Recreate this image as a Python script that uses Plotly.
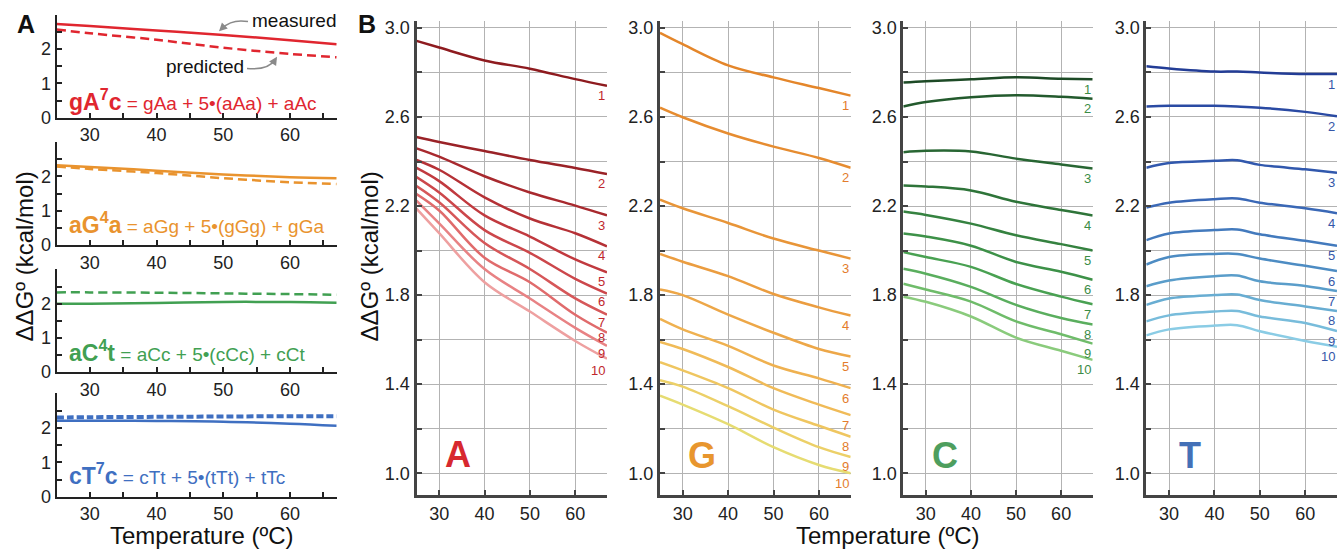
import plotly.graph_objects as go

FONT = "Arial, 'Liberation Sans', Helvetica, sans-serif"

# ---------------- data: panel A ----------------
temp_A = [25, 30, 40, 50, 60, 67]
gA7c_measured = [2.73, 2.67, 2.54, 2.41, 2.26, 2.14]
gA7c_predicted = [2.57, 2.46, 2.27, 2.04, 1.86, 1.76]
aG4a_measured = [2.33, 2.28, 2.17, 2.06, 1.98, 1.95]
aG4a_predicted = [2.29, 2.22, 2.10, 1.95, 1.83, 1.78]
aC4t_measured = [2.00, 2.00, 2.02, 2.05, 2.05, 2.03]
aC4t_predicted = [2.33, 2.33, 2.32, 2.30, 2.28, 2.26]
cT7c_measured = [2.21, 2.21, 2.20, 2.18, 2.12, 2.06]
cT7c_predicted = [2.30, 2.31, 2.32, 2.33, 2.34, 2.34]

A_names = ["gA<sup>7</sup>c", "aG<sup>4</sup>a", "aC<sup>4</sup>t", "cT<sup>7</sup>c"]
A_formulas = ["= gAa + 5•(aAa) + aAc", "= aGg + 5•(gGg) + gGa",
              "= aCc + 5•(cCc) + cCt", "= cTt + 5•(tTt) + tTc"]
A_xticks = [30, 35, 40, 45, 50, 55, 60, 65]
A_xticktext = ["30", "", "40", "", "50", "", "60", ""]
A_yticks = [0, 0.5, 1, 1.5, 2, 2.5]
A_yticktext = ["0", "", "1", "", "2", ""]

# ---------------- data: panel B ----------------
temp_B = [25, 30, 40, 50, 60, 67]
temp_T = [25, 30, 40, 45, 50, 60, 67]
A_curves = [
    [2.942, 2.912, 2.854, 2.817, 2.770, 2.740],
    [2.510, 2.488, 2.447, 2.407, 2.371, 2.344],
    [2.459, 2.422, 2.334, 2.261, 2.202, 2.158],
    [2.407, 2.363, 2.239, 2.144, 2.078, 2.019],
    [2.371, 2.312, 2.158, 2.063, 1.960, 1.902],
    [2.330, 2.261, 2.092, 1.990, 1.873, 1.807],
    [2.290, 2.217, 2.034, 1.917, 1.785, 1.712],
    [2.254, 2.180, 1.968, 1.858, 1.712, 1.631],
    [2.224, 2.122, 1.917, 1.785, 1.653, 1.572],
    [2.188, 2.078, 1.858, 1.726, 1.594, 1.514],
]
G_curves = [
    [2.978, 2.927, 2.832, 2.778, 2.730, 2.696],
    [2.642, 2.599, 2.526, 2.467, 2.416, 2.372],
    [2.229, 2.190, 2.124, 2.054, 2.000, 1.964],
    [1.985, 1.950, 1.885, 1.805, 1.745, 1.708],
    [1.825, 1.800, 1.712, 1.631, 1.558, 1.524],
    [1.693, 1.646, 1.572, 1.484, 1.426, 1.382],
    [1.590, 1.558, 1.477, 1.382, 1.308, 1.261],
    [1.499, 1.462, 1.382, 1.286, 1.213, 1.164],
    [1.418, 1.389, 1.301, 1.205, 1.117, 1.073],
    [1.348, 1.308, 1.220, 1.117, 1.037, 1.000],
]
C_curves = [
    [2.755, 2.761, 2.769, 2.778, 2.772, 2.769],
    [2.647, 2.667, 2.689, 2.698, 2.691, 2.682],
    [2.442, 2.448, 2.445, 2.413, 2.387, 2.369],
    [2.292, 2.288, 2.270, 2.219, 2.182, 2.158],
    [2.175, 2.160, 2.121, 2.069, 2.029, 2.000],
    [2.077, 2.063, 2.022, 1.949, 1.905, 1.869],
    [1.993, 1.971, 1.927, 1.850, 1.793, 1.759],
    [1.918, 1.896, 1.837, 1.756, 1.697, 1.668],
    [1.851, 1.825, 1.771, 1.682, 1.624, 1.582],
    [1.793, 1.770, 1.704, 1.609, 1.550, 1.509],
]
T_curves = [
    [2.828, 2.818, 2.804, 2.804, 2.800, 2.793, 2.793],
    [2.647, 2.650, 2.650, 2.647, 2.642, 2.623, 2.603],
    [2.372, 2.393, 2.403, 2.406, 2.385, 2.365, 2.350],
    [2.193, 2.215, 2.231, 2.234, 2.215, 2.190, 2.168],
    [2.047, 2.077, 2.092, 2.095, 2.073, 2.044, 2.022],
    [1.937, 1.971, 1.985, 1.985, 1.964, 1.932, 1.908],
    [1.840, 1.866, 1.885, 1.888, 1.862, 1.841, 1.818],
    [1.756, 1.785, 1.800, 1.803, 1.778, 1.749, 1.729],
    [1.682, 1.709, 1.726, 1.729, 1.704, 1.675, 1.638],
    [1.619, 1.646, 1.663, 1.665, 1.638, 1.594, 1.568],
]
curve_labels = ["1", "2", "3", "4", "5", "6", "7", "8", "9", "10"]
B_letters = ["A", "G", "C", "T"]
B_xticks = [30, 40, 50, 60]
B_yticks = [1.0, 1.2, 1.4, 1.6, 1.8, 2.0, 2.2, 2.4, 2.6, 2.8, 3.0]
B_yticktext = ["1.0", "", "1.4", "", "1.8", "", "2.2", "", "2.6", "", "3.0"]

# ---------------- styles ----------------
W, H = 1342, 559
def fx(p): return p / W
def fy(p): return 1 - p / H

A_colors = ["#e0262f", "#e9932e", "#41a052", "#3f6fc1"]
A_dash = [("9px,5px", 2.5), ("9px,5px", 2.5), ("9px,5px", 2.5), ("7px,3px", 4)]
A_rows = [(13, 118.3), (143.3, 248.3), (273.3, 378.3), (400, 505.7)]
A_text_y = [100, 226, 357, 482]

red_shades = ["#8e1b1f", "#9a2227", "#a8292e", "#b53136", "#c13a3f",
              "#cc474b", "#d65759", "#e06b6c", "#e88284", "#eea0a0"]
orange_shades = ["#e4862a", "#e68c30", "#e89538", "#eb9d40", "#eda748",
                 "#efb150", "#f0bb58", "#efc660", "#ecd068", "#e6dc72"]
green_shades = ["#1d4a26", "#235a2d", "#286633", "#2e7439", "#358240",
                "#3d9148", "#49a152", "#5aae5e", "#6fbc6a", "#8acb7c"]
blue_shades = ["#233d96", "#2a4aa3", "#3158ad", "#3a68b6", "#437abd",
               "#4d8cc3", "#5a9dca", "#68add2", "#78bcdb", "#8acce5"]
B_shades = [red_shades, orange_shades, green_shades, blue_shades]
B_label_colors = ["#c0272d", "#e37c2c", "#3b8c46", "#3556a8"]
B_letter_colors = ["#d7282f", "#e8962e", "#4e9e5e", "#4470b7"]
B_xdom = [(416.5, 607), (660, 850.7), (903.3, 1092.7), (1146.3, 1337)]
B_ydom = (19, 504.3)
B_letter_pos = [(458, 462), (702, 463), (945, 463), (1190, 463)]
# vertical offsets (px) of the curve-number labels below line ends
B_label_shift = [
    [-10, -10, -10, -9, -9, -8, -8, -5, -8, -12],
    [-10] * 10,
    [-10] * 10,
    [-10] * 10,
]

fig = go.Figure()
layout = dict(width=W, height=H, margin=dict(l=0, r=0, t=0, b=0),
              paper_bgcolor="white", plot_bgcolor="white", showlegend=False,
              font=dict(family=FONT, color="#222"))
annotations = []
shapes = []

def axname(n):
    return ("x" if n == 1 else f"x{n}"), ("y" if n == 1 else f"y{n}")

tickfont = dict(family=FONT, size=18, color="#222")

# ---------------- panel A ----------------
A_measured = [gA7c_measured, aG4a_measured, aC4t_measured, cT7c_measured]
A_predicted = [gA7c_predicted, aG4a_predicted, aC4t_predicted, cT7c_predicted]
for i in range(4):
    n = i + 1
    xa, ya = axname(n)
    fig.add_trace(go.Scatter(x=temp_A, y=A_predicted[i], xaxis=xa, yaxis=ya, mode="lines",
                             line=dict(color=A_colors[i], width=A_dash[i][1], dash=A_dash[i][0],
                                       shape="spline", smoothing=1.0)))
    fig.add_trace(go.Scatter(x=temp_A, y=A_measured[i], xaxis=xa, yaxis=ya, mode="lines",
                             line=dict(color=A_colors[i], width=2.5, shape="spline", smoothing=1.0)))
    top, bot = A_rows[i]
    layout["xaxis" + ("" if n == 1 else str(n))] = dict(
        domain=[fx(56.5), fx(336.7)], anchor=ya, range=[25, 67],
        showline=True, linecolor="#222", linewidth=2, ticks="inside", ticklen=5,
        tickwidth=1.5, tickcolor="#222", tickvals=A_xticks, ticktext=A_xticktext,
        showgrid=False, zeroline=False, tickfont=tickfont)
    layout["yaxis" + ("" if n == 1 else str(n))] = dict(
        domain=[fy(bot), fy(top)], anchor=xa, range=[0, 3],
        showline=True, linecolor="#222", linewidth=2, ticks="inside", ticklen=5,
        tickwidth=1.5, tickcolor="#222", tickvals=A_yticks, ticktext=A_yticktext,
        showgrid=False, zeroline=False, tickfont=tickfont)
    annotations.append(dict(
        xref="paper", yref="paper", x=fx(67), y=fy(A_text_y[i]), xanchor="left", yanchor="middle",
        text=f"<b><span style='font-size:23px'>{A_names[i]}</span></b> {A_formulas[i]}",
        showarrow=False, font=dict(family=FONT, size=19, color=A_colors[i])))

# measured / predicted callouts
annotations.append(dict(xref="paper", yref="paper", x=fx(250), y=fy(19), xanchor="left",
                        yanchor="middle", text="measured", showarrow=False,
                        font=dict(family=FONT, size=19, color="#111")))
annotations.append(dict(xref="paper", yref="paper", x=fx(246), y=fy(66), xanchor="right",
                        yanchor="middle", text="predicted", showarrow=False,
                        font=dict(family=FONT, size=19, color="#111")))
shapes.append(dict(type="path", xref="paper", yref="paper",
                   path=f"M {fx(248)},{fy(20)} Q {fx(232)},{fy(17)} {fx(222)},{fy(27)}",
                   line=dict(color="#8a8a8a", width=1.5)))
annotations.append(dict(xref="paper", yref="paper", x=fx(219), y=fy(30), ax=7, ay=-7,
                        text="", showarrow=True, arrowhead=2, arrowsize=1.1, arrowwidth=1.5,
                        arrowcolor="#8a8a8a"))
shapes.append(dict(type="path", xref="paper", yref="paper",
                   path=f"M {fx(247)},{fy(68)} Q {fx(268)},{fy(70)} {fx(275)},{fy(59)}",
                   line=dict(color="#8a8a8a", width=1.5)))
annotations.append(dict(xref="paper", yref="paper", x=fx(277), y=fy(56), ax=-5, ay=8,
                        text="", showarrow=True, arrowhead=2, arrowsize=1.1, arrowwidth=1.5,
                        arrowcolor="#8a8a8a"))

# ---------------- panel B ----------------
B_data = [(temp_B, A_curves), (temp_B, G_curves), (temp_B, C_curves), (temp_T, T_curves)]
for k in range(4):
    n = k + 5
    xa, ya = axname(n)
    temps, curves = B_data[k]
    for j, ys in enumerate(curves):
        fig.add_trace(go.Scatter(x=temps, y=ys, xaxis=xa, yaxis=ya, mode="lines",
                                 line=dict(color=B_shades[k][j], width=2.5, shape="spline",
                                           smoothing=1.0)))
        annotations.append(dict(xref=xa, yref=ya, x=temps[-1], y=ys[-1], xanchor="right",
                                yanchor="middle", yshift=B_label_shift[k][j],
                                text=curve_labels[j], showarrow=False,
                                font=dict(family=FONT, size=13, color=B_label_colors[k])))
    x0, x1 = B_xdom[k]
    layout[f"xaxis{n}"] = dict(
        domain=[fx(x0), fx(x1)], anchor=ya, range=[25, 67],
        showline=True, linecolor="#444", linewidth=3, ticks="inside", ticklen=5,
        tickwidth=1.5, tickcolor="#444", tickvals=B_xticks,
        showgrid=True, gridcolor="#b3b3b3", gridwidth=1, zeroline=False, tickfont=tickfont)
    layout[f"yaxis{n}"] = dict(
        domain=[fy(B_ydom[1]), fy(B_ydom[0])], anchor=xa, range=[0.9, 3.033],
        showline=True, linecolor="#444", linewidth=3, ticks="inside", ticklen=5,
        tickwidth=1.5, tickcolor="#444", tickvals=B_yticks, ticktext=B_yticktext,
        showgrid=True, gridcolor="#b3b3b3", gridwidth=1, zeroline=False, tickfont=tickfont)
    lx, ly = B_letter_pos[k]
    annotations.append(dict(xref="paper", yref="paper", x=fx(lx), y=fy(ly), xanchor="center",
                            yanchor="middle", text=f"<b>{B_letters[k]}</b>", showarrow=False,
                            font=dict(family=FONT, size=36, color=B_letter_colors[k])))

# ---------------- titles ----------------
title_font = dict(family=FONT, size=24, color="#111")
annotations += [
    dict(xref="paper", yref="paper", x=fx(26), y=fy(22), text="<b>A</b>", showarrow=False,
         xanchor="center", yanchor="middle", font=dict(family=FONT, size=25, color="#111")),
    dict(xref="paper", yref="paper", x=fx(367), y=fy(22), text="<b>B</b>", showarrow=False,
         xanchor="center", yanchor="middle", font=dict(family=FONT, size=25, color="#111")),
    dict(xref="paper", yref="paper", x=fx(201), y=fy(545), text="Temperature (ºC)",
         showarrow=False, xanchor="center", yanchor="middle", font=title_font),
    dict(xref="paper", yref="paper", x=fx(888), y=fy(545), text="Temperature (ºC)",
         showarrow=False, xanchor="center", yanchor="middle", font=title_font),
    dict(xref="paper", yref="paper", x=fx(24), y=fy(260), text="ΔΔGº (kcal/mol)",
         textangle=-90, showarrow=False, xanchor="center", yanchor="middle", font=title_font),
    dict(xref="paper", yref="paper", x=fx(369), y=fy(260), text="ΔΔGº (kcal/mol)",
         textangle=-90, showarrow=False, xanchor="center", yanchor="middle", font=title_font),
]

layout["annotations"] = annotations
layout["shapes"] = shapes
fig.update_layout(**layout)
fig.write_html("out.html", config={"displayModeBar": False},
               post_script="document.body.style.margin='0';document.body.style.overflow='hidden';")
